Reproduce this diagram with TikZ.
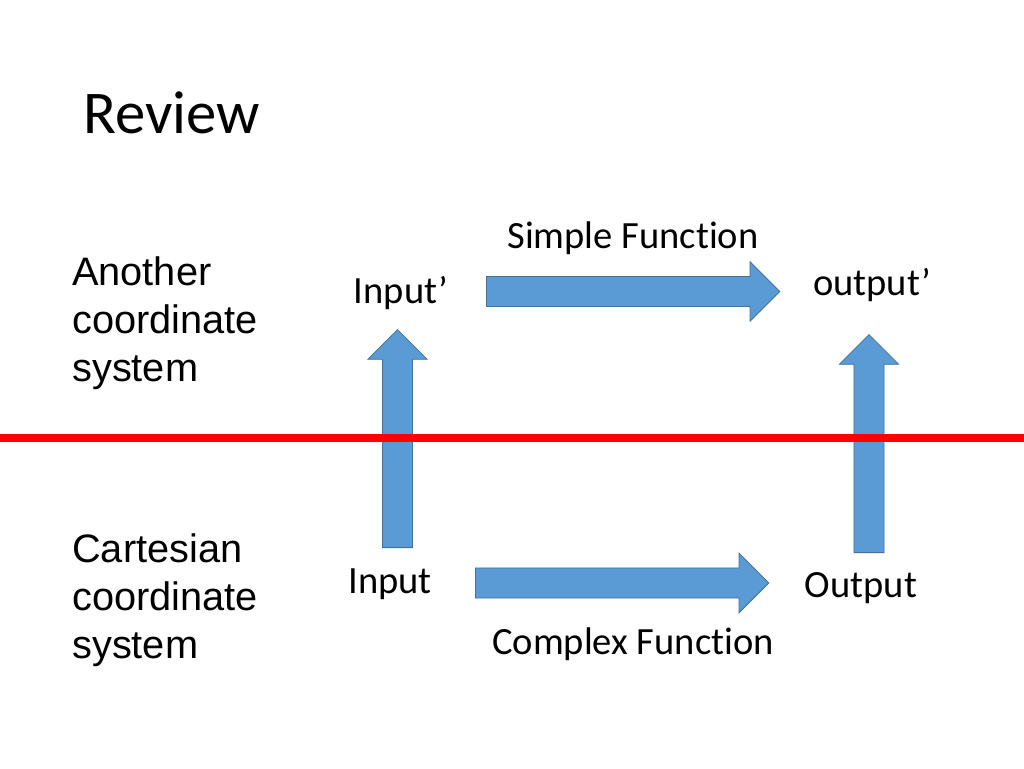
\documentclass[tikz,border=0pt]{standalone}
\usepackage{fontspec}
\setmainfont{Carlito}[Ligatures=NoCommon]
\newfontfamily\arialfont{Liberation Sans}
\usetikzlibrary{shapes.arrows}
\definecolor{slideblue}{RGB}{91,155,213}
\definecolor{slideedge}{RGB}{65,113,156}
\definecolor{slidered}{RGB}{255,0,0}

\begin{document}
\begin{tikzpicture}[
    x=0.75pt, y=-0.75pt,
    flowarrow/.style={single arrow, draw=slideedge, fill=slideblue, line width=0.6pt, inner xsep=0pt, inner ysep=11pt, single arrow head extend=11pt, anchor=tail},
    fnlabel/.style={inner sep=0pt, font=\fontsize{28.9}{34}\selectfont},
    sidetext/.style={inner sep=0pt, align=left, font=\arialfont\fontsize{29.8}{36}\selectfont},
    divider/.style={draw=slidered, line width=6pt}
]
    \useasboundingbox (0,0) rectangle (1024,768);

    % Title
    \node[inner sep=0pt, anchor=base west, font=\fontsize{45.5}{50}\selectfont] (title) at (83,133) {Review};

    % Coordinate systems
    \node[sidetext, anchor=north west] (another) at (72,256) {Another\\coordinate\\system};
    \node[sidetext, anchor=north west] (cartesian) at (72,533) {Cartesian\\coordinate\\system};

    % Inputs and outputs
    \node[fnlabel, anchor=base] (inputp) at (401,303) {Input’};
    \node[fnlabel, anchor=base] (outputp) at (872,295) {output’};
    \node[fnlabel, anchor=base] (input) at (390,593) {Input};
    \node[fnlabel, anchor=base] (output) at (861,597) {Output};

    % Functions
    \node[fnlabel, anchor=base] (simple) at (633,248) {Simple Function};
    \node[fnlabel, anchor=base] (complex) at (633,654) {Complex Function};

    % Arrows
    \node[flowarrow, minimum height=220pt] (simplearrow) at (486,291.5) {};
    \node[flowarrow, minimum height=220pt] (complexarrow) at (475,583) {};
    \node[flowarrow, minimum height=163.5pt, rotate=90] (liftin) at (397.5,548) {};
    \node[flowarrow, minimum height=163.5pt, rotate=90] (liftout) at (869,553) {};

    % Divider
    \coordinate (sepleft) at (0,438);
    \coordinate (sepright) at (1024,438);
    \draw[divider] (sepleft) -- (sepright);
\end{tikzpicture}
\end{document}
